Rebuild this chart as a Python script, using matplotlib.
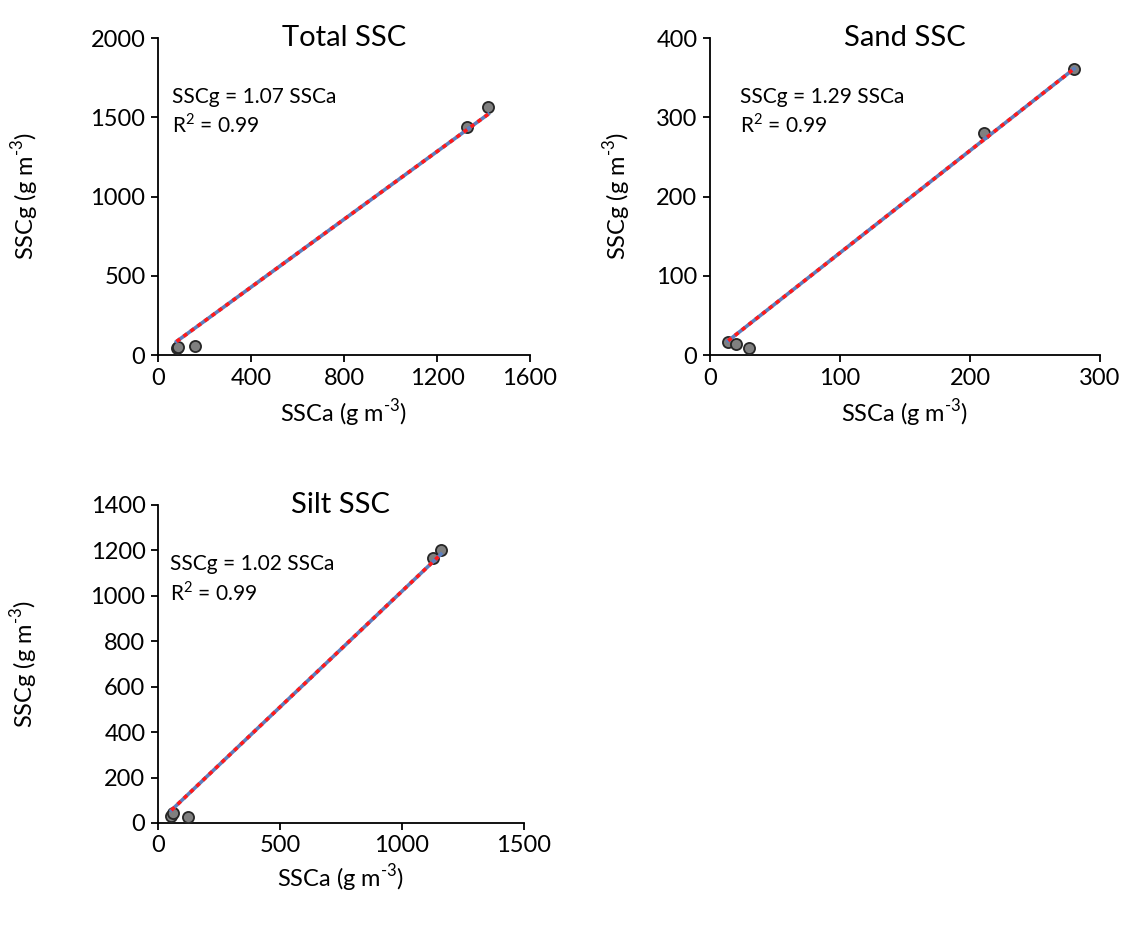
import matplotlib
matplotlib.use("Agg")
import matplotlib.pyplot as plt
import numpy as np

plt.rcParams['font.family'] = ['Lato', 'DejaVu Sans']
plt.rcParams['mathtext.fontset'] = 'custom'
plt.rcParams['mathtext.rm'] = 'Lato'

# measured vs. estimated suspended sediment concentration (g m-3)
total_a = [80, 86, 160, 1330, 1420]
total_g = [42, 50, 60, 1440, 1562]
sand_a = [14, 20, 30, 211, 280]
sand_g = [17, 14, 9, 280, 361]
silt_a = [55, 60, 123, 1127, 1160]
silt_g = [30, 45, 28, 1165, 1203]

slopes = [1.07, 1.29, 1.02]
r2 = [0.99, 0.99, 0.99]
titles = ["Total SSC", "Sand SSC", "Silt SSC"]

fig = plt.figure(figsize=(11.25, 9.4), dpi=100)

panels = [
    (fig.add_axes([0.1404, 0.6223, 0.3307, 0.3372]), total_a, total_g,
     (0, 1600), np.arange(0, 1601, 400), (0, 2000), np.arange(0, 2001, 500)),
    (fig.add_axes([0.6311, 0.6223, 0.3467, 0.3372]), sand_a, sand_g,
     (0, 300), np.arange(0, 301, 100), (0, 400), np.arange(0, 401, 100)),
    (fig.add_axes([0.1404, 0.1245, 0.3253, 0.3383]), silt_a, silt_g,
     (0, 1500), np.arange(0, 1501, 500), (0, 1400), np.arange(0, 1401, 200)),
]
ylab_x = [-0.315, -0.197, -0.322]
xlab_y = [-0.132, -0.132, -0.123]
note_x = [0.038, 0.077, 0.033]

for i, (ax, xa, yg, xl, xt, yl, yt) in enumerate(panels):
    xa = np.array(xa)
    yg = np.array(yg)
    ax.plot(xa, yg, 'o', ms=8, mfc='#808080', mec='#262626', mew=1.3, zorder=3)
    # trendline through origin
    xx = np.array([xa.min(), xa.max()])
    ax.plot(xx, slopes[i] * xx, '-', color='#5b7fc0', lw=2.6, zorder=4)
    ax.plot(xx, slopes[i] * xx, '--', color='#ff1a1a', lw=2.6,
            dashes=(1.2, 1.2), zorder=5)

    ax.set_xlim(xl)
    ax.set_ylim(yl)
    ax.set_xticks(xt)
    ax.set_yticks(yt)
    for s in ['top', 'right']:
        ax.spines[s].set_visible(False)
    for s in ['left', 'bottom']:
        ax.spines[s].set_linewidth(1.3)
    ax.tick_params(direction='out', length=5, width=1.3, labelsize=17, pad=4)
    ax.set_xlabel(r"SSCa (g m$^{\text{-3}}$)", fontsize=17)
    ax.set_ylabel(r"SSCg (g m$^{\text{-3}}$)", fontsize=17)
    ax.xaxis.set_label_coords(0.5, xlab_y[i])
    ax.yaxis.set_label_coords(ylab_x[i], 0.5)
    ax.text(0.5, 1.0, titles[i], transform=ax.transAxes, ha='center',
            va='center', fontsize=21)
    ax.text(note_x[i], 0.814, "SSCg = %.2f SSCa" % slopes[i],
            transform=ax.transAxes, fontsize=15, va='center')
    ax.text(note_x[i], 0.726, "R$^{2}$ = %.2f" % r2[i],
            transform=ax.transAxes, fontsize=15, va='center')

fig.savefig("out.png", dpi=100)
